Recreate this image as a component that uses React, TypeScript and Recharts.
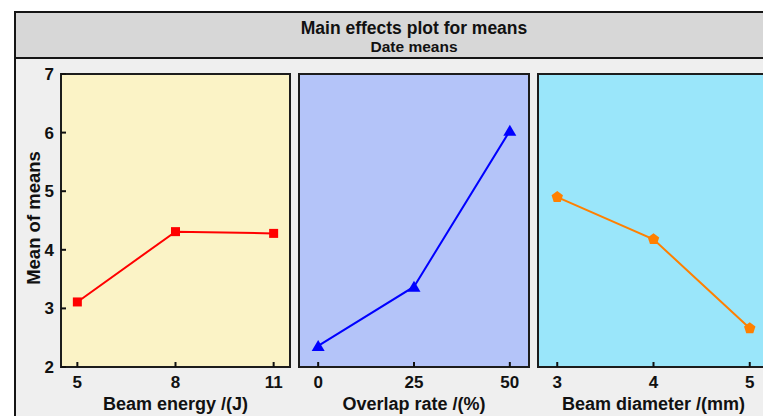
import React from 'react';
import { LineChart, Line, XAxis, YAxis, ReferenceArea } from 'recharts';

const yTicks = [2, 3, 4, 5, 6, 7];

const energyLevels = [5, 8, 11];
const energyMeans = [3.11, 4.31, 4.28];

const overlapLevels = [0, 25, 50];
const overlapMeans = [2.36, 3.37, 6.03];

const diameterLevels = [3, 4, 5];
const diameterMeans = [4.9, 4.18, 2.66];

const toRows = (xs: number[], ys: number[]) => xs.map((x, i) => ({ x, y: ys[i] }));

const tickStyle = { fontSize: 17, fontWeight: 'bold', fill: '#111' };
const labelStyle = { fontSize: 18, fontWeight: 'bold', fill: '#111' };

const Square = (props: any) => {
  const { cx, cy, key } = props;
  return <rect key={key} x={cx - 4.5} y={cy - 4.5} width={9} height={9} fill="#ff0000" />;
};

const Triangle = (props: any) => {
  const { cx, cy, key } = props;
  return <polygon key={key} points={`${cx},${cy - 6} ${cx - 6.5},${cy + 5} ${cx + 6.5},${cy + 5}`} fill="#0000ff" />;
};

const Pentagon = (props: any) => {
  const { cx, cy, key } = props;
  const r = 6;
  const pts = [0, 1, 2, 3, 4]
    .map((i) => {
      const a = -Math.PI / 2 + (i * 2 * Math.PI) / 5;
      return `${cx + r * Math.cos(a)},${cy + r * Math.sin(a)}`;
    })
    .join(' ');
  return <polygon key={key} points={pts} fill="#ff8000" />;
};

type PanelProps = {
  left: number;
  width: number;
  marginLeft: number;
  marginRight: number;
  yAxisWidth: number;
  showYLabels: boolean;
  domain: [number, number];
  ticks: number[];
  rows: { x: number; y: number }[];
  bg: string;
  color: string;
  dot: (p: any) => React.ReactElement;
  label: string;
};

const Panel = (p: PanelProps) => (
  <div style={{ position: 'absolute', left: p.left, top: 0 }}>
    <LineChart
      width={p.width}
      height={416}
      data={p.rows}
      margin={{ top: 74, right: p.marginRight, left: p.marginLeft, bottom: 0 }}
    >
      <ReferenceArea
        x1={p.domain[0]}
        x2={p.domain[1]}
        y1={2}
        y2={7}
        fill={p.bg}
        fillOpacity={1}
        stroke="#1c1c1c"
        strokeWidth={2}
      />
      <XAxis
        type="number"
        dataKey="x"
        domain={p.domain}
        ticks={p.ticks}
        height={49}
        axisLine={false}
        tickSize={-5}
        tickMargin={14}
        tickLine={{ stroke: '#111', strokeWidth: 2 }}
        tick={tickStyle}
        label={{ value: p.label, position: 'insideBottom', offset: 6, style: labelStyle }}
      />
      <YAxis
        type="number"
        domain={[2, 7]}
        ticks={yTicks}
        width={p.yAxisWidth}
        axisLine={false}
        tickSize={-5}
        tickMargin={12}
        tickLine={{ stroke: '#111', strokeWidth: 2 }}
        tick={p.showYLabels ? tickStyle : false}
      />
      <Line
        dataKey="y"
        type="linear"
        stroke={p.color}
        strokeWidth={2}
        dot={p.dot}
        activeDot={false}
        isAnimationActive={false}
      />
    </LineChart>
  </div>
);

export default function App() {
  return (
    <div
      style={{
        position: 'absolute',
        left: 0,
        top: 0,
        width: 763,
        height: 416,
        overflow: 'hidden',
        background: '#ffffff',
        fontFamily: '"Liberation Sans", Arial, sans-serif',
      }}
    >
      <div
        style={{
          position: 'absolute',
          left: 14,
          top: 11,
          width: 800,
          height: 430,
          border: '2px solid #151515',
          background: '#efefef',
          boxSizing: 'border-box',
        }}
      >
        <div
          style={{
            height: 44,
            background: '#d7d7d7',
            borderBottom: '2px solid #151515',
            textAlign: 'center',
            fontWeight: 'bold',
            color: '#111',
          }}
        >
          <div style={{ fontSize: 17.5, paddingTop: 5, lineHeight: '20px' }}>Main effects plot for means</div>
          <div style={{ fontSize: 15.5, lineHeight: '18px' }}>Date means</div>
        </div>
      </div>
      <svg style={{ position: 'absolute', left: 0, top: 0 }} width={60} height={416}>
        <text
          x={33}
          y={218}
          transform="rotate(-90 33 218)"
          textAnchor="middle"
          dominantBaseline="central"
          style={{ fontSize: 18.5, fontWeight: 'bold', fill: '#111' }}
        >
          Mean of means
        </text>
      </svg>
      <Panel
        left={0}
        width={296}
        marginLeft={0}
        marginRight={6}
        yAxisWidth={61}
        showYLabels
        domain={[4.5, 11.5]}
        ticks={energyLevels}
        rows={toRows(energyLevels, energyMeans)}
        bg="#fbf3c6"
        color="#ff0000"
        dot={Square}
        label="Beam energy /(J)"
      />
      <Panel
        left={296}
        width={238}
        marginLeft={3}
        marginRight={5}
        yAxisWidth={0}
        showYLabels={false}
        domain={[-5, 55]}
        ticks={overlapLevels}
        rows={toRows(overlapLevels, overlapMeans)}
        bg="#b4c4f9"
        color="#0000ff"
        dot={Triangle}
        label="Overlap rate /(%)"
      />
      <Panel
        left={534}
        width={240}
        marginLeft={4}
        marginRight={5}
        yAxisWidth={0}
        showYLabels={false}
        domain={[2.8, 5.2]}
        ticks={diameterLevels}
        rows={toRows(diameterLevels, diameterMeans)}
        bg="#9ae6fa"
        color="#ff8000"
        dot={Pentagon}
        label="Beam diameter /(mm)"
      />
    </div>
  );
}
